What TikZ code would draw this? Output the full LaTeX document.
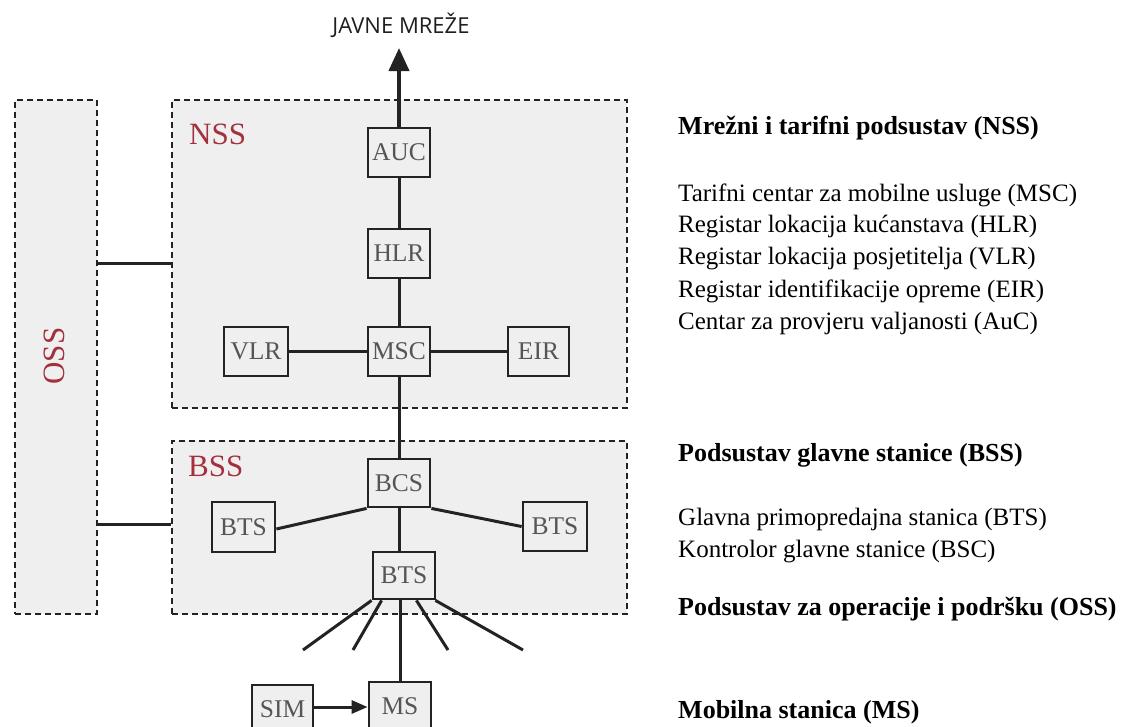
\documentclass[tikz,border=0pt]{standalone}
\usepackage{fontspec}
\setmainfont{Liberation Serif}
\newfontfamily\sansf{Open Sans}
\usetikzlibrary{arrows.meta,calc}
\definecolor{redlab}{RGB}{163,48,60}
\definecolor{boxtext}{RGB}{85,85,85}
\definecolor{bgfill}{RGB}{239,239,239}
\definecolor{lineclr}{RGB}{35,35,35}
\begin{document}
\begin{tikzpicture}[x=1pt,y=-1pt,
  group/.style={draw=lineclr, dash pattern=on 6pt off 4pt, line width=2.2pt, fill=bgfill, inner sep=0pt},
  grouplab/.style={inner sep=0pt, text=redlab, font=\fontsize{31}{36}\selectfont},
  unit/.style={draw=lineclr, line width=2.8pt, fill=bgfill, minimum width=62pt, minimum height=49pt, inner sep=0pt, text=boxtext, font=\fontsize{25.5}{30}\selectfont},
  conn/.style={draw=lineclr, line width=3pt},
  head/.style={anchor=west, inner sep=0pt, font=\bfseries\fontsize{26}{30}\selectfont},
  item/.style={anchor=west, inner sep=0pt, font=\fontsize{25}{30}\selectfont}]
\clip (0,0) rectangle (1126,726);
\fill[white] (0,0) rectangle (1126,726);

% containers
\node[group, minimum width=82pt, minimum height=514pt] (oss) at (56,357) {};
\node[group, minimum width=455pt, minimum height=308pt] (nss) at (399.5,254) {};
\node[group, minimum width=455pt, minimum height=173pt] (bss) at (399.5,527.5) {};

\node[grouplab, rotate=90] (osslab) at (54,356) {OSS};
\node[grouplab, anchor=west] (nsslab) at (189,134) {NSS};
\node[grouplab, anchor=west] (bsslab) at (188,466) {BSS};

% top label
\node[inner sep=0pt, font=\sansf\fontsize{22}{26}\selectfont, text=black!88] (javne) at (401,25) {JAVNE MREŽE};
\coordinate (top) at (399,48);

% units
\node[unit] (auc) at (399,152.5) {AUC};
\node[unit] (hlr) at (399,253.5) {HLR};
\node[unit] (msc) at (399,351.5) {MSC};
\node[unit, minimum width=64pt] (vlr) at (256,351.5) {VLR};
\node[unit, minimum width=61pt] (eir) at (538.5,351.5) {EIR};
\node[unit, minimum height=48pt] (bcs) at (399,483) {BCS};
\node[unit, minimum width=63pt, minimum height=50pt] (btsl) at (243.5,527) {BTS};
\node[unit, minimum width=64pt] (btsr) at (555,526.5) {BTS};
\node[unit, minimum height=47pt] (btsc) at (404,575.5) {BTS};
\node[unit] (ms) at (400,706.5) {MS};
\node[unit, minimum width=61pt] (sim) at (282.5,709.5) {SIM};

% connectors
\draw[conn] (oss.east |- 0,263) -- (nss.west |- 0,263);
\draw[conn] (oss.east |- 0,524) -- (bss.west |- 0,524);
\draw[conn, line width=4pt, -{Triangle[length=23pt,width=20pt]}] (auc.north) -- (top);
\draw[conn] (auc.south) -- (hlr.north);
\draw[conn] (hlr.south) -- (msc.north);
\draw[conn] (vlr.east) -- (msc.west);
\draw[conn] (msc.east) -- (eir.west);
\draw[conn] (msc.south) -- (bcs.north);
\draw[conn] (bcs.south west) -- ($(btsl.east)+(0,2)$);
\draw[conn] (bcs.south east) -- (btsr.west);
\draw[conn] (bcs.south) -- (bcs.south |- btsc.north);

\coordinate (f1) at (303,650);
\coordinate (f2) at (353,650);
\coordinate (f3) at (448,650);
\coordinate (f4) at (523,650);
\draw[conn] (btsc.south west) -- (f1);
\draw[conn] ([xshift=10pt]btsc.south west) -- (f2);
\draw[conn] ([xshift=-20pt]btsc.south east) -- (f3);
\draw[conn] ([xshift=-1pt]btsc.south east) -- (f4);
\draw[conn] (ms.north) -- (ms.north |- btsc.south);
\draw[conn, -{Triangle[length=16pt,width=13pt]}] (sim.east |- 0,707) -- (ms.west |- 0,707);

% right-hand legend
\node[head] (h1) at (678,128) {Mrežni i tarifni podsustav (NSS)};
\node[item] (t1) at (678,195) {Tarifni centar za mobilne usluge (MSC)};
\node[item] (t2) at (678,227) {Registar lokacija kućanstava (HLR)};
\node[item] (t3) at (678,259) {Registar lokacija posjetitelja (VLR)};
\node[item] (t4) at (678,291) {Registar identifikacije opreme (EIR)};
\node[item] (t5) at (678,323) {Centar za provjeru valjanosti (AuC)};
\node[head] (h2) at (678,455) {Podsustav glavne stanice (BSS)};
\node[item] (t6) at (678,519) {Glavna primopredajna stanica (BTS)};
\node[item] (t7) at (678,552) {Kontrolor glavne stanice (BSC)};
\node[head] (h3) at (678,609) {Podsustav za operacije i podršku (OSS)};
\node[head] (h4) at (678,712) {Mobilna stanica (MS)};
\end{tikzpicture}
\end{document}
